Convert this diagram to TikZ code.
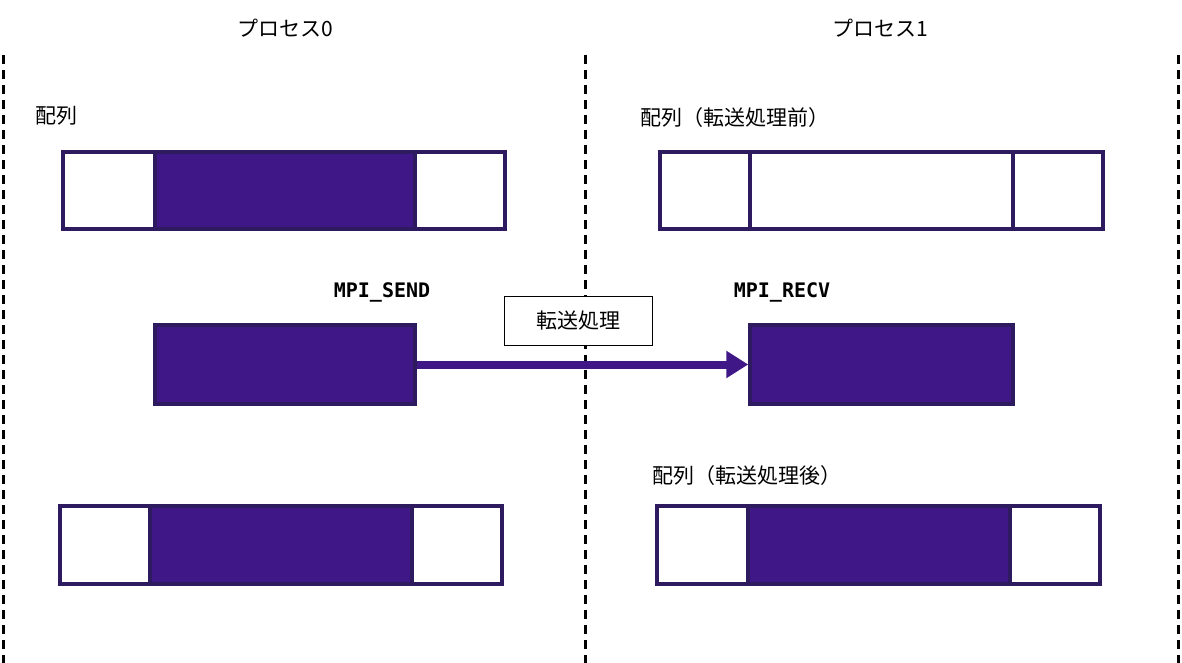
\documentclass[tikz,border=0pt]{standalone}
\usepackage{fontspec}
\setmainfont{Noto Sans CJK JP}
\setmonofont{DejaVu Sans Mono}
\usetikzlibrary{arrows.meta}
\definecolor{pfill}{HTML}{3F1786}
\definecolor{pline}{HTML}{2E1A5E}
\begin{document}
\begin{tikzpicture}[x=1pt,y=-1pt,
  cell/.style={draw=pline,line width=3.5pt},
  full/.style={draw=pline,fill=pfill,line width=3.5pt},
  sep/.style={dashed,line width=3pt,dash pattern=on 9pt off 6pt},
  lbl/.style={font=\fontsize{21}{24}\selectfont,anchor=west,inner sep=0pt},
  mpi/.style={font=\ttfamily\bfseries\fontsize{20}{24}\selectfont,inner sep=0pt}]
\useasboundingbox (0,0) rectangle (1182,663);
\draw[sep] (3,55) -- (3,663);
\draw[sep] (585,55) -- (585,663);
\draw[sep] (1178,55) -- (1178,663);
\node[lbl,anchor=center] (t0) at (285,28) {プロセス0};
\node[lbl,anchor=center] (t1) at (880,28) {プロセス1};
\node[lbl] (l0) at (35,116) {配列};
\node[lbl] (l1) at (640,118) {配列（転送処理前）};
\node[lbl] (l2) at (652,476) {配列（転送処理後）};
% top left
\draw[cell] (63,152) rectangle (505,229);
\draw[full] (155,152) rectangle (415,229);
% top right
\draw[cell] (660,152) rectangle (1103,229);
\draw[cell] (750,152) -- (750,229);
\draw[cell] (1013,152) -- (1013,229);
% send / recv
\node[mpi] (ms) at (382,292) {MPI\_SEND};
\node[mpi] (mr) at (782,292) {MPI\_RECV};
\node[full,minimum width=260pt,minimum height=79pt,inner sep=0pt] (s) at (285,364.5) {};
\node[full,minimum width=263pt,minimum height=79pt,inner sep=0pt] (r) at (881.5,364.5) {};
\draw[pfill,line width=8pt,-{Triangle[length=22pt,width=26pt]}] (s.east) -- (r.west);
\node[draw,fill=white,line width=1pt,minimum width=148pt,minimum height=49pt,font=\fontsize{21}{24}\selectfont] (tp) at (578,320.5) {転送処理};
% bottom
\draw[cell] (60,506) rectangle (502,584);
\draw[full] (150,506) rectangle (412,584);
\draw[cell] (657,506) rectangle (1100,584);
\draw[full] (748,506) rectangle (1010,584);
\end{tikzpicture}
\end{document}
